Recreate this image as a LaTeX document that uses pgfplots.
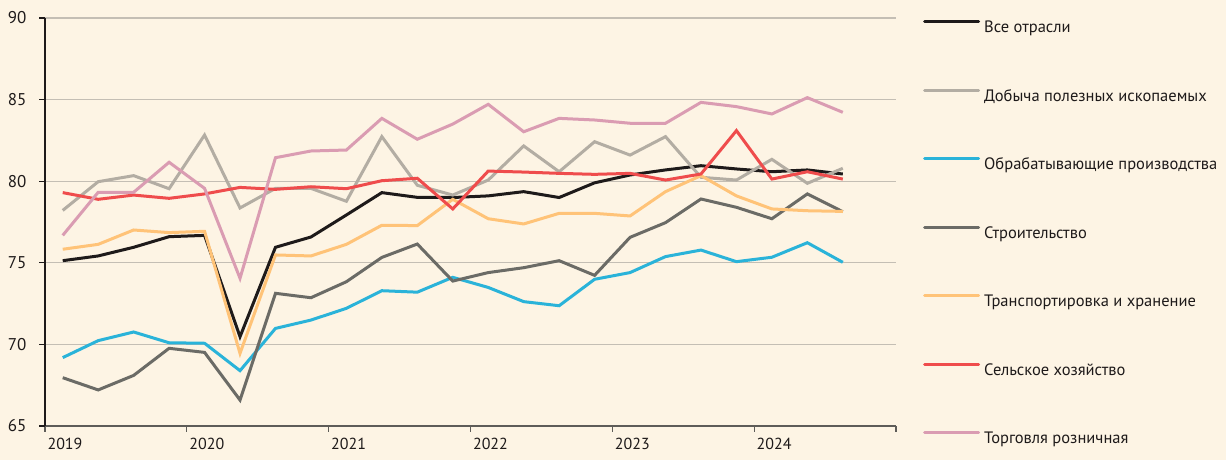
\documentclass[border=0pt]{standalone}
\usepackage{fontspec}
\setmainfont{PT Sans}
\usepackage{pgfplots}
\usepackage{pgfplotstable}
\pgfplotsset{compat=1.18}
\definecolor{bg}{HTML}{FDF4E4}
\definecolor{gridc}{HTML}{C4BEB4}
\definecolor{cAll}{HTML}{1E1A1A}
\definecolor{cMin}{HTML}{B3ADA3}
\definecolor{cMan}{HTML}{2AB3D9}
\definecolor{cCon}{HTML}{6B6B66}
\definecolor{cTra}{HTML}{FFC378}
\definecolor{cAgr}{HTML}{EF4C4C}
\definecolor{cRet}{HTML}{DA9CB2}
\definecolor{axg}{HTML}{5E5C58}
\pgfplotstableread{
x all mining manuf constr transp agri retail
2019.125 75.13 78.21 69.19 67.96 75.83 79.30 76.68
2019.375 75.42 79.97 70.23 67.21 76.13 78.89 79.32
2019.625 75.95 80.34 70.76 68.10 77.01 79.15 79.32
2019.875 76.60 79.54 70.10 69.76 76.85 78.95 81.16
2020.125 76.68 82.83 70.07 69.51 76.93 79.22 79.56
2020.375 70.47 78.36 68.39 66.59 69.45 79.62 74.05
2020.625 75.95 79.56 70.98 73.13 75.48 79.50 81.44
2020.875 76.58 79.56 71.49 72.86 75.42 79.66 81.85
2021.125 77.93 78.77 72.21 73.84 76.13 79.54 81.91
2021.375 79.30 82.73 73.29 75.33 77.30 80.03 83.85
2021.625 79.01 79.75 73.20 76.15 77.28 80.18 82.57
2021.875 79.00 79.15 74.11 73.88 78.89 78.30 83.50
2022.125 79.10 80.07 73.49 74.40 77.70 80.62 84.71
2022.375 79.36 82.16 72.62 74.70 77.38 80.56 83.03
2022.625 79.00 80.58 72.37 75.13 78.03 80.48 83.85
2022.875 79.90 82.42 73.99 74.23 78.03 80.42 83.75
2023.125 80.38 81.60 74.40 76.56 77.87 80.48 83.55
2023.375 80.69 82.73 75.38 77.46 79.36 80.07 83.55
2023.625 80.95 80.24 75.78 78.91 80.34 80.44 84.83
2023.875 80.75 80.07 75.07 78.40 79.10 83.10 84.57
2024.125 80.58 81.34 75.34 77.70 78.30 80.13 84.12
2024.375 80.69 79.87 76.23 79.22 78.19 80.58 85.12
2024.625 80.44 80.79 75.03 78.13 78.15 80.13 84.22
}\datatable
\begin{document}
\begin{tikzpicture}
\fill[bg] (0,0) rectangle (1226pt,460pt);
\path[use as bounding box] (0,0) rectangle (1226pt,460pt);
\begin{axis}[
  at={(45pt,34pt)}, anchor=south west,
  scale only axis, width=851pt, height=408pt,
  xmin=2019, xmax=2025, ymin=65, ymax=90,
  axis x line*=bottom, axis y line*=left,
  x axis line style={draw=axg, line width=2pt},
  y axis line style={draw=cAll, line width=1.3pt},
  xtick={2019,2020,2021,2022,2023,2024,2025},
  xticklabels={2019,2020,2021,2022,2023,2024,{}},
  ytick={65,70,75,80,85,90},
  tick align=outside, major tick length=6pt,
  x tick style={draw=axg, line width=1.3pt},
  y tick style={draw=cAll, line width=1.3pt},
  ymajorgrids, grid style={draw=gridc, line width=1.3pt},
  ticklabel style={font=\fontsize{16}{19}\selectfont, text=cAll},
  xticklabel style={anchor=north west, xshift=-1pt, yshift=-3pt},
  yticklabel style={anchor=east, xshift=-9pt, font=\fontsize{17}{20}\selectfont},
  /pgf/number format/assume math mode=true,
  /pgf/number format/1000 sep={},
  legend cell align=left,
  legend image code/.code={\draw[#1, line cap=round] (0pt,7pt) -- (54pt,7pt);},
  legend style={at={(1,1)}, anchor=north west, xshift=27pt, yshift=-2pt,
    draw=none, fill=none, inner sep=0pt, row sep=52pt, column sep=4pt,
    nodes={inner sep=0pt, text height=12pt, text depth=4pt, font=\fontsize{16.5}{19}\selectfont, text=cAll}},
  every axis plot/.append style={line width=3pt, line join=miter},
]
\addplot[cAll] table[x=x, y=all] {\datatable};
\addlegendentry{Все отрасли}
\addplot[cMin] table[x=x, y=mining] {\datatable};
\addlegendentry{Добыча полезных ископаемых}
\addplot[cMan] table[x=x, y=manuf] {\datatable};
\addlegendentry{Обрабатывающие производства}
\addplot[cCon] table[x=x, y=constr] {\datatable};
\addlegendentry{Строительство}
\addplot[cTra] table[x=x, y=transp] {\datatable};
\addlegendentry{Транспортировка и хранение}
\addplot[cAgr] table[x=x, y=agri] {\datatable};
\addlegendentry{Сельское хозяйство}
\addplot[cRet] table[x=x, y=retail] {\datatable};
\addlegendentry{Торговля розничная}
\end{axis}
\end{tikzpicture}
\end{document}
